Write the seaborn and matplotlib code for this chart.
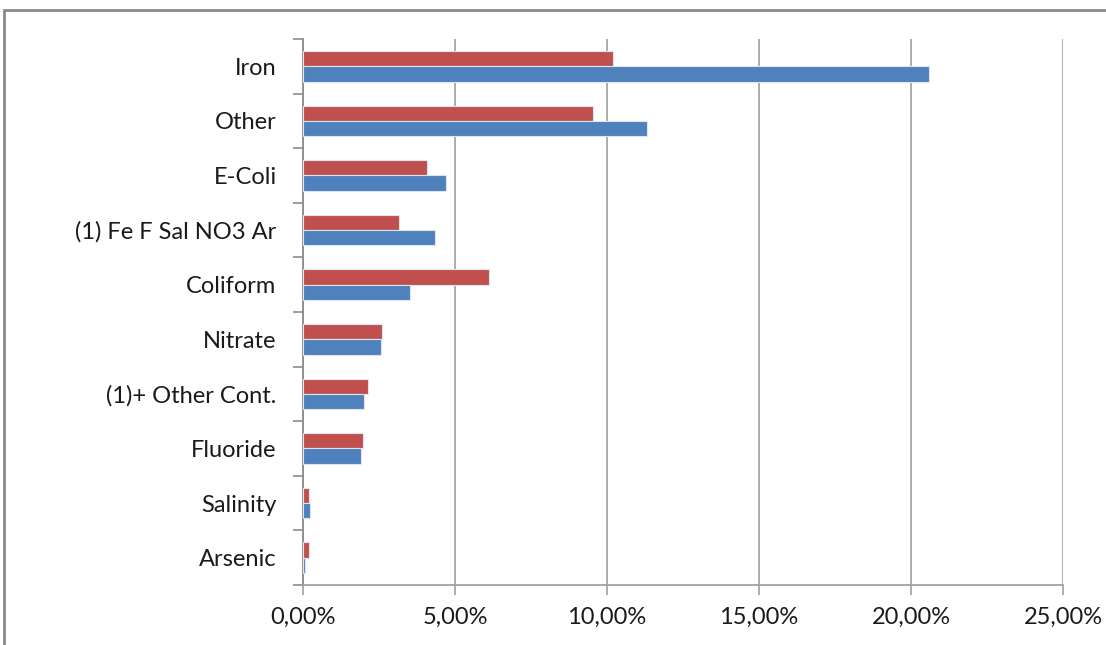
import matplotlib
matplotlib.use("Agg")
import matplotlib.pyplot as plt
import matplotlib.ticker as mticker
from matplotlib.patches import Rectangle
import seaborn as sns
import pandas as pd

categories = ["Iron", "Other", "E-Coli", "(1) Fe F Sal NO3 Ar", "Coliform",
              "Nitrate", "(1)+ Other Cont.", "Fluoride", "Salinity", "Arsenic"]
series_names = ["Series A", "Series B"]
series_a = [10.21, 9.54, 4.08, 3.15, 6.11, 2.61, 2.14, 1.97, 0.19, 0.19]   # red
series_b = [20.59, 11.31, 4.72, 4.34, 3.53, 2.55, 2.00, 1.91, 0.23, 0.07]  # blue
x_ticks = [0, 5, 10, 15, 20, 25]

df = pd.DataFrame({
    "category": categories * 2,
    "series": [series_names[0]] * len(categories) + [series_names[1]] * len(categories),
    "value": series_a + series_b,
})

sns.set_theme(style="white")
plt.rcParams["font.family"] = ["Lato", "DejaVu Sans"]

W, H = 1106, 645
fig = plt.figure(figsize=(W / 100, H / 100), dpi=100)
ax = fig.add_axes([303 / W, 1 - 585 / H, (1063 - 303) / W, (585 - 39) / H])

palette = {series_names[0]: "#C0504D", series_names[1]: "#4F81BD"}
sns.barplot(data=df, y="category", x="value", hue="series", order=categories,
            hue_order=series_names, palette=palette, orient="h", width=0.56,
            gap=0, saturation=1, edgecolor="#DDE6F0", linewidth=0.8,
            legend=False, ax=ax, zorder=3)

ax.set_xlim(0, 25)
ax.set_ylim(len(categories) - 0.5, -0.5)
ax.set_xlabel("")
ax.set_ylabel("")

# x axis
ax.set_xticks(x_ticks)
ax.xaxis.set_major_formatter(mticker.FuncFormatter(lambda v, p: f"{v:.2f}".replace(".", ",") + "%"))
ax.tick_params(axis="x", direction="out", length=7, width=1.2, color="#A0A0A0",
               labelsize=17, labelcolor="#1a1a1a", pad=9, bottom=True)
ax.grid(axis="x", color="#A6A6A6", linewidth=1.3, zorder=0)
ax.set_axisbelow(True)

# y axis: ticks at category boundaries, labels at centers
ax.set_yticks([i - 0.5 for i in range(len(categories) + 1)])
ax.set_yticklabels([])
ax.set_yticks(range(len(categories)), minor=True)
ax.set_yticklabels(categories, minor=True)
ax.tick_params(axis="y", which="major", direction="out", length=7, width=1.2,
               color="#8C8C8C", left=True)
ax.tick_params(axis="y", which="minor", length=0, labelsize=17,
               labelcolor="#1a1a1a", pad=19)

for s in ["top", "right"]:
    ax.spines[s].set_visible(False)
ax.spines["left"].set_color("#8C8C8C")
ax.spines["left"].set_linewidth(1.3)
ax.spines["bottom"].set_color("#A0A0A0")
ax.spines["bottom"].set_linewidth(1.3)

# outer chart border (partially visible)
fig.add_artist(Rectangle((4 / W, -0.2), 1.2, 1.2 - 10 / H, transform=fig.transFigure,
                         fill=False, edgecolor="#8A8A8A", linewidth=2.0))

fig.savefig("out.png", dpi=100)
